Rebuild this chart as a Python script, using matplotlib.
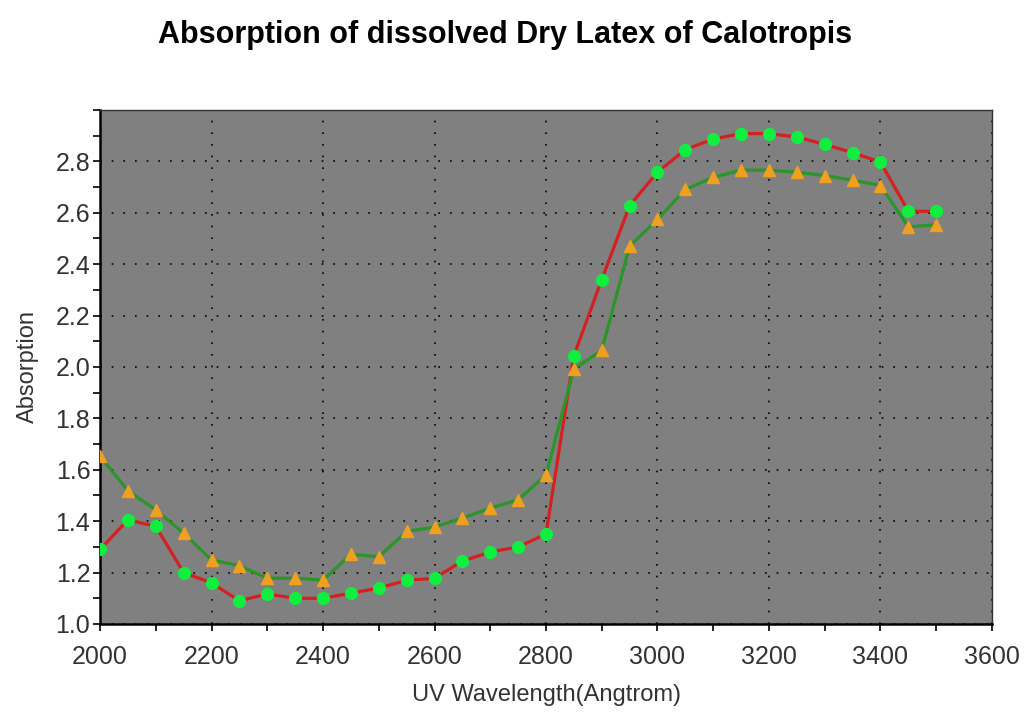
import matplotlib
matplotlib.use("Agg")
import matplotlib.pyplot as plt
from matplotlib.ticker import MultipleLocator, FormatStrFormatter

wavelength = [2000, 2050, 2100, 2150, 2200, 2250, 2300, 2350, 2400, 2450, 2500,
              2550, 2600, 2650, 2700, 2750, 2800, 2850, 2900, 2950, 3000, 3050,
              3100, 3150, 3200, 3250, 3300, 3350, 3400, 3450, 3500]

series_circle = [1.29, 1.405, 1.38, 1.20, 1.16, 1.09, 1.117, 1.10, 1.10, 1.12, 1.14,
                 1.17, 1.178, 1.245, 1.28, 1.30, 1.35, 2.044, 2.34, 2.628, 2.758, 2.846,
                 2.887, 2.908, 2.908, 2.895, 2.866, 2.834, 2.797, 2.606, 2.606]

series_triangle = [1.652, 1.519, 1.444, 1.353, 1.249, 1.227, 1.178, 1.178, 1.171, 1.271, 1.262,
                   1.36, 1.377, 1.412, 1.451, 1.483, 1.58, 1.992, 2.065, 2.47, 2.574, 2.691,
                   2.738, 2.766, 2.766, 2.758, 2.745, 2.727, 2.706, 2.545, 2.554]

title = "Absorption of dissolved Dry Latex of Calotropis"
xlabel = "UV Wavelength(Angtrom)"
ylabel = "Absorption"

fig = plt.figure(figsize=(10.27, 7.16), dpi=100)
ax = fig.add_axes([0.0974, 0.1285, 0.8685, 0.7179])
ax.set_facecolor("#808080")

ax.plot(wavelength, series_circle, color="#d42020", lw=2.3, marker="o",
        markersize=8.5, markerfacecolor="#10ee40", markeredgecolor="#10ee40", zorder=3)
ax.plot(wavelength, series_triangle, color="#2a962a", lw=2.3, marker="^",
        markersize=9, markerfacecolor="#f0a020", markeredgecolor="#f0a020", zorder=4)

ax.set_xlim(2000, 3600)
ax.set_ylim(1.0, 3.0)
ax.xaxis.set_major_locator(MultipleLocator(200))
ax.xaxis.set_minor_locator(MultipleLocator(100))
ax.yaxis.set_minor_locator(MultipleLocator(0.1))
ax.set_yticks([1.0 + 0.2 * i for i in range(10)])
ax.yaxis.set_major_formatter(FormatStrFormatter("%.1f"))

ax.grid(True, which="major", color="black", linestyle=(0, (1, 6)), linewidth=1.2)

font = "Liberation Sans"
ax.tick_params(axis="both", which="both", direction="out", length=5, width=1.2,
               colors="black", labelsize=18, labelcolor="#333333")
ax.tick_params(axis="x", which="both", pad=10)
ax.tick_params(axis="y", which="both", pad=2)
for lbl in ax.get_xticklabels() + ax.get_yticklabels():
    lbl.set_fontfamily(font)

for s in ["left", "bottom"]:
    ax.spines[s].set_linewidth(1.8)
    ax.spines[s].set_color("black")
for s in ["top", "right"]:
    ax.spines[s].set_linewidth(1.0)
    ax.spines[s].set_color("#333333")

ax.set_xlabel(xlabel, fontsize=17, fontfamily=font, color="#333333", labelpad=11)
ax.set_ylabel(ylabel, fontsize=17, fontfamily=font, color="#333333", labelpad=12)

fig.text(0.492, 0.951, title, ha="center", va="center", fontsize=22,
         fontweight="bold", fontfamily="Liberation Sans")

fig.savefig("out.png", dpi=100)
